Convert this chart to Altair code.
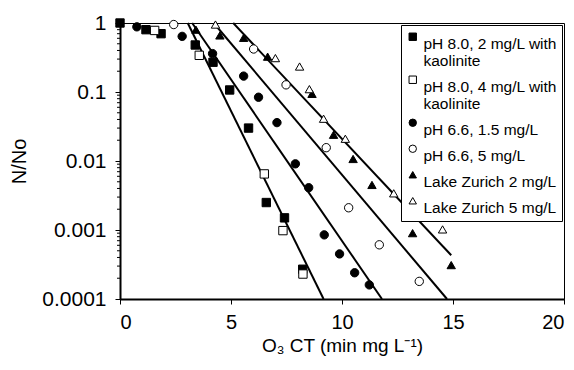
import altair as alt
import pandas as pd

# ---- data ----
series = [
    "pH 8.0, 2 mg/L with kaolinite",
    "pH 8.0, 4 mg/L with kaolinite",
    "pH 6.6, 1.5 mg/L",
    "pH 6.6, 5 mg/L",
    "Lake Zurich 2 mg/L",
    "Lake Zurich 5 mg/L",
]
shapes = ["square", "square", "circle", "circle", "triangle-up", "triangle-up"]
fills = ["black", "white", "black", "white", "black", "white"]
strokes = ["black"] * 6

sq_filled_x = [0.0, 1.17, 1.85, 3.39, 4.19, 4.94, 5.79, 6.59, 7.41, 8.23]
sq_filled_y = [1.0, 0.80, 0.70, 0.48, 0.27, 0.107, 0.030, 0.0025, 0.0015, 0.00027]

sq_open_x = [1.56, 3.57, 6.50, 7.34, 8.24]
sq_open_y = [0.78, 0.34, 0.0065, 0.00098, 0.00023]

circ_filled_x = [0.76, 2.80, 4.17, 5.57, 6.24, 7.07, 7.90, 8.50, 9.20, 9.89, 10.57, 11.23]
circ_filled_y = [0.88, 0.64, 0.36, 0.17, 0.084, 0.036, 0.0091, 0.0041, 0.00085, 0.00045, 0.00024, 0.00016]

circ_open_x = [2.42, 6.02, 7.48, 9.29, 10.30, 11.68, 13.48]
circ_open_y = [0.95, 0.42, 0.127, 0.0156, 0.0021, 0.00061, 0.00018]

tri_filled_x = [3.42, 4.50, 5.57, 6.65, 8.65, 9.62, 10.50, 11.35, 13.18, 14.92]
tri_filled_y = [0.80, 0.66, 0.61, 0.325, 0.094, 0.024, 0.0107, 0.0045, 0.00090, 0.00031]

tri_open_x = [4.30, 7.00, 8.09, 8.53, 9.17, 10.15, 12.33, 13.45, 14.53]
tri_open_y = [0.95, 0.31, 0.234, 0.11, 0.041, 0.021, 0.0034, 0.0015, 0.00102]

# fitted lines (start / end points)
fit_x0 = [3.05, 3.25, 4.22, 5.10]
fit_y0 = [1.0, 1.0, 1.0, 1.0]
fit_x1 = [9.17, 11.80, 14.73, 14.92]
fit_y1 = [0.0001, 0.0001, 0.0001, 0.00043]

x_ticks = [0, 5, 10, 15, 20]
y_ticks = [1, 0.1, 0.01, 0.001, 0.0001]
y_minor = [m * 10.0 ** e for e in range(-4, 0) for m in range(2, 10)]

# ---- build tables ----
rows = []
for name, xs, ys in zip(
    series,
    [sq_filled_x, sq_open_x, circ_filled_x, circ_open_x, tri_filled_x, tri_open_x],
    [sq_filled_y, sq_open_y, circ_filled_y, circ_open_y, tri_filled_y, tri_open_y],
):
    for a, b in zip(xs, ys):
        rows.append({"series": name, "x": a, "y": b})
pts = pd.DataFrame(rows)

lrows = []
for i, (a0, b0, a1, b1) in enumerate(zip(fit_x0, fit_y0, fit_x1, fit_y1)):
    lrows.append({"fit": i, "x": a0, "y": b0})
    lrows.append({"fit": i, "x": a1, "y": b1})
fit_df = pd.DataFrame(lrows)

minor_df = pd.DataFrame({"v": y_minor})

FONT = "Liberation Sans"

xscale = alt.Scale(domain=[0, 20], nice=False)
yscale = alt.Scale(type="log", domain=[0.0001, 1], nice=False)

xaxis = alt.Axis(
    values=x_ticks,
    title="O₃ CT (min mg L⁻¹)",
    grid=False,
    tickSize=5,
    labelPadding=8,
    titlePadding=4,
    titleFontSize=19,
)
yaxis = alt.Axis(
    values=y_ticks,
    format="~g",
    title="N/No",
    grid=False,
    tickSize=5,
    labelPadding=9,
    titlePadding=12,
    labelFontSize=21,
)

legend = alt.Legend(
    title=None,
    orient="none",
    legendX=281,
    legendY=2,
    padding=4,
    strokeColor="black",
    fillColor="white",
    labelFont=FONT,
    labelFontSize=15.5,
    labelColor="black",
    labelLimit=400,
    labelBaseline="top",
    labelOffset=3,
    symbolSize=55,
    symbolStrokeColor="black",
    symbolStrokeWidth=1,
    rowPadding=2,
    labelExpr="indexof(datum.label, 'kaolinite') > 0 ? [slice(datum.label, 0, -10), 'kaolinite'] : datum.label",
)

lines = alt.Chart(fit_df).mark_line(color="black", strokeWidth=2).encode(
    x=alt.X("x:Q", scale=xscale, axis=xaxis),
    y=alt.Y("y:Q", scale=yscale, axis=yaxis),
    detail="fit:N",
)

points = alt.Chart(pts).mark_point(strokeWidth=1, size=70, opacity=1).encode(
    x=alt.X("x:Q", scale=xscale, axis=xaxis),
    y=alt.Y("y:Q", scale=yscale, axis=yaxis),
    shape=alt.Shape("series:N", scale=alt.Scale(domain=series, range=shapes), legend=legend),
    fill=alt.Fill("series:N", scale=alt.Scale(domain=series, range=fills), legend=legend),
    stroke=alt.Stroke("series:N", scale=alt.Scale(domain=series, range=strokes), legend=legend),
)

minor = alt.Chart(minor_df).mark_rule(color="black", strokeWidth=1).encode(
    y=alt.Y("v:Q", scale=yscale, axis=yaxis),
    x=alt.value(-3),
    x2=alt.value(0),
)

chart = (
    alt.layer(lines, points, minor)
    .properties(
        width=444,
        height=276,
        autosize="none",
        padding={"left": 112, "top": 15, "right": 2, "bottom": 63},
    )
    .configure_view(stroke="black", strokeWidth=1)
    .configure_axis(
        labelFont=FONT,
        titleFont=FONT,
        labelFontSize=20,
        titleFontSize=20,
        titleFontWeight="normal",
        labelColor="black",
        titleColor="black",
        domainColor="black",
        domainWidth=2,
        tickColor="black",
        tickWidth=1,
    )
)

chart.save("out.html", embed_options={"renderer": "svg", "actions": False})
